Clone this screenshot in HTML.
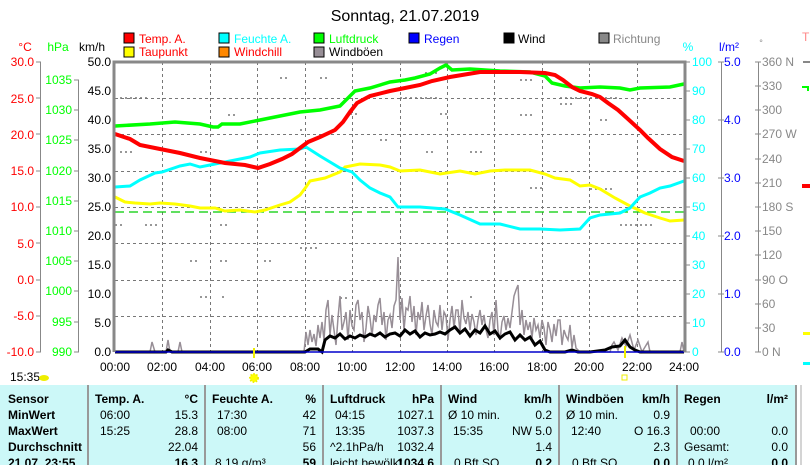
<!DOCTYPE html>
<html><head><meta charset="utf-8"><style>
body{margin:0;background:#fff;width:810px;height:465px;overflow:hidden;font-family:"Liberation Sans",sans-serif}
svg{position:absolute;left:0;top:0}
</style></head><body>
<svg width="810" height="465" viewBox="0 0 810 465" font-family="Liberation Sans, sans-serif">
<rect width="810" height="465" fill="#fff"/>
<text x="405" y="21" font-size="16" text-anchor="middle">Sonntag, 21.07.2019</text>
<g font-size="12">
<rect x="124" y="33" width="10" height="10" fill="#f00" stroke="#000"/><text x="139" y="43" fill="#f00">Temp. A.</text>
<rect x="219" y="33" width="10" height="10" fill="#0ff" stroke="#000"/><text x="234" y="43" fill="#0ff">Feuchte A.</text>
<rect x="314" y="33" width="10" height="10" fill="#0f0" stroke="#000"/><text x="329" y="43" fill="#0f0">Luftdruck</text>
<rect x="409" y="33" width="10" height="10" fill="#00f" stroke="#000"/><text x="424" y="43" fill="#00f">Regen</text>
<rect x="504" y="33" width="10" height="10" fill="#000" stroke="#000"/><text x="518" y="43" fill="#000">Wind</text>
<rect x="599" y="33" width="10" height="10" fill="#888" stroke="#000"/><text x="613" y="43" fill="#888">Richtung</text>
<rect x="124" y="47" width="10" height="10" fill="#ff0" stroke="#000"/><text x="139" y="56" fill="#f00">Taupunkt</text>
<rect x="219" y="47" width="10" height="10" fill="#f80" stroke="#000"/><text x="234" y="56" fill="#f00">Windchill</text>
<rect x="314" y="47" width="10" height="10" fill="#978e96" stroke="#000"/><text x="329" y="56" fill="#000">Windböen</text>
</g>
<g font-size="12">
<text x="25" y="51" fill="#f00" text-anchor="middle">°C</text>
<text x="58" y="51" fill="#0f0" text-anchor="middle">hPa</text>
<text x="92" y="51" fill="#000" text-anchor="middle">km/h</text>
<text x="688" y="51" fill="#0ff" text-anchor="middle">%</text>
<text x="729" y="51" fill="#00f" text-anchor="middle">l/m²</text>
<text x="761" y="46" fill="#888" font-size="9" text-anchor="middle">°</text>
<text x="802" y="41" fill="#f88">T</text>
</g>
<g stroke="#888" stroke-width="1">
<line x1="40.5" y1="62" x2="40.5" y2="352"/>
<line x1="78.5" y1="80" x2="78.5" y2="352"/>
</g>
<g font-size="12" fill="#f00" text-anchor="end">
<text x="34" y="66">30.0</text><text x="34" y="103">25.0</text><text x="34" y="139">20.0</text><text x="34" y="175">15.0</text><text x="34" y="211">10.0</text><text x="34" y="248">5.0</text><text x="34" y="284">0.0</text><text x="34" y="320">-5.0</text><text x="34" y="356">-10.0</text>
</g>
<g stroke="#888"><path d="M36 62h5M36 98h5M36 134h5M36 171h5M36 207h5M36 243h5M36 280h5M36 316h5M36 352h5"/>
<path d="M74 80h5M74 110h5M74 140h5M74 171h5M74 201h5M74 231h5M74 261h5M74 291h5M74 322h5M74 352h5"/></g>
<g font-size="12" fill="#0f0" text-anchor="end">
<text x="72" y="84">1035</text><text x="72" y="114">1030</text><text x="72" y="144">1025</text><text x="72" y="175">1020</text><text x="72" y="205">1015</text><text x="72" y="235">1010</text><text x="72" y="265">1005</text><text x="72" y="295">1000</text><text x="72" y="326">995</text><text x="72" y="356">990</text>
</g>
<g font-size="12" fill="#000" text-anchor="end">
<text x="111" y="66">50.0</text><text x="111" y="95">45.0</text><text x="111" y="124">40.0</text><text x="111" y="153">35.0</text><text x="111" y="182">30.0</text><text x="111" y="211">25.0</text><text x="111" y="240">20.0</text><text x="111" y="269">15.0</text><text x="111" y="298">10.0</text><text x="111" y="327">5.0</text><text x="111" y="356">0.0</text>
</g>
<g stroke="#777" stroke-dasharray="3,3" stroke-width="1">
<path d="M162.5 62V352M210.5 62V352M257.5 62V352M305.5 62V352M352.5 62V352M400.5 62V352M447.5 62V352M494.5 62V352M542.5 62V352M589.5 62V352M637.5 62V352"/>
<path d="M115 98.5H684M115 134.5H684M115 171.5H684M115 207.5H684M115 243.5H684M115 280.5H684M115 316.5H684"/>
</g>
<g stroke="#777" stroke-width="1.5" stroke-dasharray="2,3" fill="none">
<path d="M280 78h10M320 78h10M425 73h12M450 77h8M520 80h12M350 114h10M228 115h8M440 114h8M520 115h14M560 104h14M120 152h14M200 152h8M426 152h10M470 152h12M530 188h14M590 189h22M620 225h32M115 225h8M145 225h12M220 225h8M190 261h8M220 261h10M264 261h8M200 297h10M222 297h3M470 297h5M300 130h6M380 140h10M600 120h10M120 98h30M400 98h40M560 98h60M300 248h20M340 298h10"/>
</g>
<line x1="115" y1="212" x2="684" y2="212" stroke="#0c0" stroke-width="1.3" stroke-dasharray="9,5"/>
<polyline fill="none" stroke="#978e96" stroke-width="1.5" points="115,352 150,352 152,342 155,352 166,352 168,340 170,352 178,352 180,342 182,352 304,352 306,332 308,345 310,330 312,342 314,334 316,346 318,325 320,338 322,322 324,340 326,310 328,300 330,335 332,315 334,330 336,345 338,318 340,296 342,330 344,322 346,312 348,340 350,310 352,326 354,330 356,305 358,300 360,320 362,312 364,342 366,328 368,306 370,318 372,336 374,315 376,322 378,305 380,298 382,325 384,312 386,340 388,320 390,315 392,328 394,306 396,300 398,257 400,320 402,298 404,330 406,308 408,310 410,296 412,322 414,306 416,335 418,312 420,320 422,302 424,330 426,316 428,305 430,324 432,335 434,310 436,322 438,326 440,305 442,330 444,312 446,316 448,340 450,320 452,306 454,328 456,310 458,310 460,333 462,300 464,318 466,324 468,312 470,330 472,314 474,322 476,335 478,320 480,310 482,325 484,315 486,330 488,338 490,320 492,312 494,335 496,300 498,330 500,340 502,322 504,316 506,330 508,318 510,328 512,312 514,296 516,290 518,285 520,325 522,310 524,335 526,320 528,330 530,322 532,338 534,318 536,330 538,325 540,338 542,320 544,328 546,345 548,322 550,330 552,342 554,324 556,336 558,320 560,320 562,345 564,330 566,336 568,340 570,325 572,348 574,335 576,348 580,352 610,352 612,345 614,342 618,350 622,338 626,346 630,335 634,350 638,340 642,352 648,342 650,352 680,352 682,342 684,352"/>
<polyline fill="none" stroke="#000" stroke-width="3" points="115,352 166,352 168,350 172,352 305,352 310,349 318,349 322,352 325,340 330,336 335,338 340,334 345,339 350,336 355,338 360,335 365,337 370,334 375,336 380,333 385,337 390,334 395,333 400,336 405,330 410,334 415,331 420,337 425,333 430,335 435,334 440,332 445,334 450,330 455,327 460,333 465,329 470,336 475,330 480,333 485,326 490,334 495,331 500,338 505,334 510,332 515,340 520,335 525,340 530,337 535,345 540,341 545,350 550,352 565,352 572,350 578,352 590,352 605,350 612,347 620,346 625,340 630,347 635,350 640,352 684,352"/>
<line x1="115" y1="352" x2="684" y2="352" stroke="#00c" stroke-width="1.5"/>
<polyline fill="none" stroke="#ff0" stroke-width="3" points="115,197 125,202 135,203 150,204 160,203 175,204 190,206 200,208 215,208 225,211 240,210 255,212 265,210 280,205 290,202 300,195 306,187 310,181 325,178 340,172 345,167 360,164 380,165 390,167 400,171 420,170 440,174 460,171 475,174 490,171 505,170 530,170 545,174 555,178 570,180 580,186 590,185 600,189 615,198 630,206 645,213 660,218 670,221 684,220"/>
<polyline fill="none" stroke="#0ff" stroke-width="3" points="115,187 130,186 140,180 155,173 162,172 180,166 190,164 200,167 210,165 230,161 250,157 260,153 280,150 300,149 306,147 320,156 340,168 352,172 360,180 370,188 380,193 390,197 398,207 420,207 445,209 460,215 480,224 500,224 520,229 540,229 560,230 580,229 590,218 600,215 620,213 630,208 640,197 650,193 660,188 670,186 684,181"/>
<polyline fill="none" stroke="#0f0" stroke-width="3.5" points="115,126 150,124 175,122 200,124 213,127 218,127 222,124 240,124 260,120 280,116 300,112 320,110 340,106 350,96 355,91 370,88 390,82 405,80 415,78 430,74 440,68 446,65 452,70 470,69 500,71 530,72 545,76 552,83 565,86 580,88 600,87 620,88 630,90 640,88 670,87 684,84"/>
<polyline fill="none" stroke="#f00" stroke-width="4" points="115,134 130,139 140,145 155,148 165,150 180,153 200,158 215,161 225,163 245,165 258,168 270,164 282,159 292,154 300,148 308,142 320,137 335,130 343,122 350,112 357,103 370,96 390,91 405,88 420,85 432,81 450,77 468,74 480,72 500,72 520,72 545,73 555,75 563,80 572,87 580,91 592,94 600,97 608,103 618,110 628,119 640,130 648,138 660,149 672,157 684,161"/>
<path d="M114 352V62H685V352" fill="none" stroke="#888" stroke-width="3"/>
<g stroke="#888"><path d="M684 62h6M684 91h6M684 120h6M684 149h6M684 178h6M684 207h6M684 236h6M684 265h6M684 294h6M684 323h6M684 352h6"/>
<line x1="721.5" y1="62" x2="721.5" y2="352"/><path d="M718 62h6M718 120h6M718 178h6M718 236h6M718 294h6M718 352h6"/>
<line x1="758.5" y1="62" x2="758.5" y2="352"/><path d="M755 62h6M755 86h6M755 110h6M755 134h6M755 159h6M755 183h6M755 207h6M755 231h6M755 255h6M755 280h6M755 304h6M755 328h6M755 352h6"/>
<path d="M803 62h7" stroke-width="2"/></g>
<g font-size="12" fill="#0ff">
<text x="692" y="66">100</text><text x="692" y="95">90</text><text x="692" y="124">80</text><text x="692" y="153">70</text><text x="692" y="182">60</text><text x="692" y="211">50</text><text x="692" y="240">40</text><text x="692" y="269">30</text><text x="692" y="298">20</text><text x="692" y="327">10</text><text x="692" y="356">0</text>
</g>
<g font-size="12" fill="#00f">
<text x="724" y="66">5.0</text><text x="724" y="124">4.0</text><text x="724" y="182">3.0</text><text x="724" y="240">2.0</text><text x="724" y="298">1.0</text><text x="724" y="356">0.0</text>
</g>
<g font-size="12" fill="#888">
<text x="762" y="66">360 N</text><text x="762" y="90">330</text><text x="762" y="114">300</text><text x="762" y="138">270 W</text><text x="762" y="163">240</text><text x="762" y="187">210</text><text x="762" y="211">180 S</text><text x="762" y="235">150</text><text x="762" y="259">120</text><text x="762" y="284">90  O</text><text x="762" y="308">60</text><text x="762" y="332">30</text><text x="762" y="356">0   N</text>
</g>
<rect x="802" y="184" width="8" height="4" fill="#f00"/><path d="M802 87h6v4" stroke="#0f0" stroke-width="2" fill="none"/><rect x="803" y="332" width="7" height="3" fill="#ff0"/><rect x="803" y="362" width="7" height="3" fill="#0ff"/>
<g font-size="12" text-anchor="middle">
<text x="115" y="371">00:00</text><text x="162" y="371">02:00</text><text x="210" y="371">04:00</text><text x="257" y="371">06:00</text><text x="305" y="371">08:00</text><text x="352" y="371">10:00</text><text x="400" y="371">12:00</text><text x="447" y="371">14:00</text><text x="494" y="371">16:00</text><text x="542" y="371">18:00</text><text x="589" y="371">20:00</text><text x="637" y="371">22:00</text><text x="684" y="371">24:00</text>
</g>
<text x="10" y="381" font-size="12">15:35</text>
<ellipse cx="44" cy="378" rx="5" ry="3" fill="#ee0"/>
<circle cx="254" cy="378" r="4" fill="#ff0" stroke="#ee0" stroke-width="2" stroke-dasharray="1.5,1.5"/>
<line x1="254" y1="348" x2="254" y2="358" stroke="#ee0" stroke-width="2"/>
<line x1="625" y1="346" x2="625" y2="358" stroke="#ee0" stroke-width="2"/>
<rect x="622" y="375" width="5" height="5" fill="none" stroke="#ee0"/>
<rect x="0" y="385" width="796" height="80" fill="#ccf8f8"/>
<g stroke="#999" stroke-width="2"><path d="M88 385V465M205 385V465M323 385V465M441 385V465M559 385V465M677 385V465M796 385V465"/></g>
<line x1="801" y1="385" x2="801" y2="465" stroke="#aaa"/>
<g font-size="12" font-weight="bold">
<text x="8" y="403">Sensor</text><text x="8" y="419">MinWert</text><text x="8" y="435">MaxWert</text><text x="8" y="451">Durchschnitt</text><text x="8" y="467">21.07. 23:55</text>
<text x="95" y="403">Temp. A.</text><text x="198" y="403" text-anchor="end">°C</text>
<text x="212" y="403">Feuchte A.</text><text x="316" y="403" text-anchor="end">%</text>
<text x="330" y="403">Luftdruck</text><text x="434" y="403" text-anchor="end">hPa</text>
<text x="448" y="403">Wind</text><text x="552" y="403" text-anchor="end">km/h</text>
<text x="566" y="403">Windböen</text><text x="670" y="403" text-anchor="end">km/h</text>
<text x="684" y="403">Regen</text><text x="788" y="403" text-anchor="end">l/m²</text>
<text x="198" y="467" text-anchor="end">16.3</text><text x="316" y="467" text-anchor="end">59</text><text x="434" y="467" text-anchor="end">1034.6</text><text x="552" y="467" text-anchor="end">0.2</text><text x="670" y="467" text-anchor="end">0.0</text><text x="788" y="467" text-anchor="end">0.0</text>
</g>
<g font-size="12">
<text x="100" y="419">06:00</text><text x="198" y="419" text-anchor="end">15.3</text>
<text x="100" y="435">15:25</text><text x="198" y="435" text-anchor="end">28.8</text>
<text x="198" y="451" text-anchor="end">22.04</text>
<text x="217" y="419">17:30</text><text x="316" y="419" text-anchor="end">42</text>
<text x="217" y="435">08:00</text><text x="316" y="435" text-anchor="end">71</text>
<text x="316" y="451" text-anchor="end">56</text><text x="215" y="467">8.19 g/m³</text>
<text x="335" y="419">04:15</text><text x="434" y="419" text-anchor="end">1027.1</text>
<text x="335" y="435">13:35</text><text x="434" y="435" text-anchor="end">1037.3</text>
<text x="330" y="451">^2.1hPa/h</text><text x="434" y="451" text-anchor="end">1032.4</text><text x="330" y="467">leicht bewölkt</text>
<text x="448" y="419">Ø 10 min.</text><text x="552" y="419" text-anchor="end">0.2</text>
<text x="453" y="435">15:35</text><text x="552" y="435" text-anchor="end">NW 5.0</text>
<text x="552" y="451" text-anchor="end">1.4</text><text x="454" y="467">0 Bft SO</text>
<text x="566" y="419">Ø 10 min.</text><text x="670" y="419" text-anchor="end">0.9</text>
<text x="571" y="435">12:40</text><text x="670" y="435" text-anchor="end">O 16.3</text>
<text x="670" y="451" text-anchor="end">2.3</text><text x="572" y="467">0 Bft SO</text>
<text x="690" y="435">00:00</text><text x="788" y="435" text-anchor="end">0.0</text>
<text x="684" y="451">Gesamt:</text><text x="788" y="451" text-anchor="end">0.0</text><text x="688" y="467">0.0 l/m²</text>
</g>
</svg>
</body></html>
